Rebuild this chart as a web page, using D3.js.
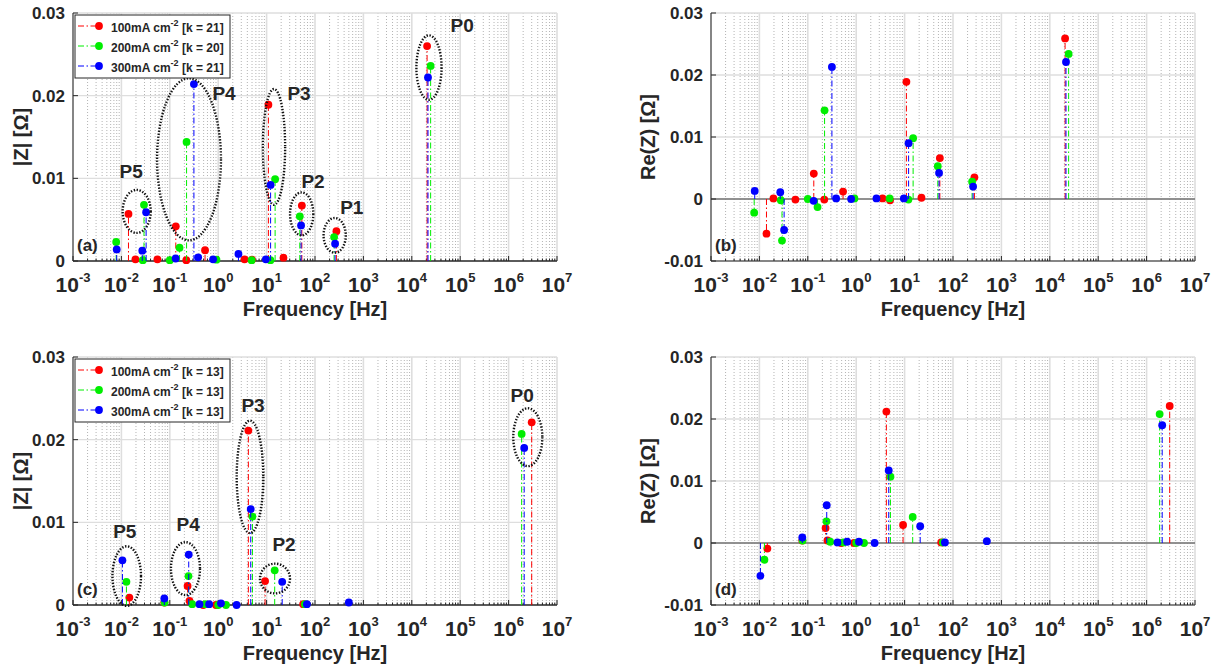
<!DOCTYPE html>
<html>
<head>
<meta charset="utf-8">
<script src="https://cdn.jsdelivr.net/npm/d3@7"></script>
<style>
  html, body { margin: 0; padding: 0; background: #ffffff; }
  svg { display: block; }
  text { font-family: "Liberation Sans", Arial, Helvetica, sans-serif; font-weight: bold; fill: #262626; }
</style>
</head>
<body>
<svg id="chart" width="1215" height="668"></svg>
<script>
// ---------------- DATA ----------------
const seriesNames = ["100mA cm", "200mA cm", "300mA cm"];
const seriesColors = ["#ff0000", "#00ee00", "#0000ff"];

// Row 1 (panels a, b)
const kRow1 = [21, 20, 21];
const f1Red   = [0.0140, 0.0195, 0.0555, 0.133, 0.219, 0.535, 3.5, 5.0, 10.9, 22.3, 53.5, 277, 20700];
const absZ1Red = [0.0057, 0.0002, 0.0002, 0.0042, 0.0001, 0.0013, 0.0002, 0.00015, 0.0189, 0.0004, 0.0067, 0.0036, 0.0260];
const reZ1Red  = [-0.0056, 0.0001, -0.0001, 0.0041, -0.0001, 0.0012, 0.0001, -0.0002, 0.0189, 0.0002, 0.0066, 0.0035, 0.0259];

const f1Green   = [0.0078, 0.0277, 0.0293, 0.100, 0.159, 0.222, 0.92, 4.9, 12.0, 15.0, 48.5, 248, 24500];
const absZ1Green = [0.0023, 0.0001, 0.0068, 0.0001, 0.0016, 0.0144, 0.00016, 0.0001, 0.0001, 0.0099, 0.0054, 0.0029, 0.0236];
const reZ1Green  = [-0.0022, -0.0002, -0.0067, 0.0000, -0.0013, 0.0143, 0.0001, 0.0001, -0.0001, 0.0098, 0.0053, 0.0028, 0.0234];

const f1Blue   = [0.0080, 0.0270, 0.0324, 0.132, 0.315, 0.385, 0.785, 2.62, 9.65, 12.1, 51.5, 260, 21600];
const absZ1Blue = [0.0014, 0.00125, 0.0059, 0.0003, 0.0214, 0.00045, 0.0002, 0.00085, 0.0002, 0.0092, 0.0043, 0.0021, 0.0222];
const reZ1Blue  = [0.0013, 0.0011, -0.0050, -0.0003, 0.0213, 0.0001, 0.0000, 0.0001, 0.0001, 0.0090, 0.0042, 0.0020, 0.0221];

// Row 2 (panels c, d)
const kRow2 = [13, 13, 13];
const f2Red   = [0.0146, 0.077, 0.233, 0.255, 0.49, 0.90, 4.2, 9.3, 57, 3.0e6];
const absZ2Red = [0.0009, 0.0003, 0.0023, 0.0005, 0.0000, 0.0000, 0.0211, 0.0029, 0.0001, 0.0221];
const reZ2Red  = [-0.0009, 0.0004, 0.0024, 0.0004, 0.0000, 0.0000, 0.0212, 0.0029, 0.0001, 0.0221];

const f2Green   = [0.0127, 0.078, 0.243, 0.29, 0.54, 1.0, 1.45, 5.1, 14.7, 62, 1.86e6];
const absZ2Green = [0.0028, 0.0003, 0.0035, 0.0001, 0.0001, 0.0000, 0.0000, 0.0107, 0.0042, 0.0001, 0.0207];
const reZ2Green  = [-0.0027, 0.0004, 0.0035, 0.0002, 0.0001, 0.0000, 0.0000, 0.0107, 0.0042, 0.0001, 0.0208];

const f2Blue   = [0.0105, 0.077, 0.246, 0.41, 0.65, 1.14, 2.4, 4.7, 21, 68, 500, 2.1e6];
const absZ2Blue = [0.0054, 0.0008, 0.0061, 0.0001, 0.0001, 0.0002, 0.0000, 0.0116, 0.0028, 0.0001, 0.0003, 0.0190];
const reZ2Blue  = [-0.0053, 0.0009, 0.0061, 0.0001, 0.0002, 0.0002, 0.0000, 0.0117, 0.0027, 0.0001, 0.0003, 0.0190];

// Axis ticks
const xTickExponents = [-3, -2, -1, 0, 1, 2, 3, 4, 5, 6, 7];
const yTicksAbs = [0, 0.01, 0.02, 0.03];
const yTickLabelsAbs = ["0", "0.01", "0.02", "0.03"];
const yTicksRe = [-0.01, 0, 0.01, 0.02, 0.03];
const yTickLabelsRe = ["-0.01", "0", "0.01", "0.02", "0.03"];

// Peak annotations: [label, centre log10(f), centre value, half-width (decades), half-height (value), label log10(f), label value]
const peaksA = [
  ["P5", -1.684, 0.0060, 0.29, 0.0026, -1.80, 0.0109],
  ["P4", -0.603, 0.0123, 0.66, 0.0098, 0.12, 0.0203],
  ["P3", 1.153, 0.0138, 0.23, 0.0070, 1.67, 0.0203],
  ["P2", 1.725, 0.0057, 0.24, 0.0026, 1.96, 0.0097],
  ["P1", 2.407, 0.0031, 0.23, 0.0021, 2.76, 0.0065],
  ["P0", 4.355, 0.0234, 0.26, 0.0039, 5.04, 0.0285]
];
const peaksC = [
  ["P5", -1.890, 0.0035, 0.295, 0.0036, -1.93, 0.0090],
  ["P4", -0.676, 0.0044, 0.30, 0.0032, -0.62, 0.0098],
  ["P3", 0.657, 0.0155, 0.275, 0.0068, 0.72, 0.0242],
  ["P2", 1.174, 0.0032, 0.31, 0.0018, 1.36, 0.0074],
  ["P0", 6.397, 0.0203, 0.30, 0.0035, 6.28, 0.0254]
];

// ---------------- DRAWING ----------------
const svg = d3.select("#chart");
const FONT = '"Liberation Sans", Arial, Helvetica, sans-serif';

function drawPanel(p) {
  const x = d3.scaleLog().domain([1e-3, 1e7]).range([p.x0, p.x1]);
  const y = d3.scaleLinear().domain(p.yDomain).range([p.y1, p.y0]);
  const g = svg.append("g");
  const pxPerDec = (p.x1 - p.x0) / 10;

  // minor x grid (dotted)
  const minor = [];
  for (let n = -3; n < 7; n++) for (let k = 2; k <= 9; k++) minor.push(k * Math.pow(10, n));
  g.selectAll(".mg").data(minor).enter().append("line")
    .attr("x1", d => x(d)).attr("x2", d => x(d))
    .attr("y1", p.y0).attr("y2", p.y1)
    .attr("stroke", "#b4b4b4").attr("stroke-width", 1).attr("stroke-dasharray", "1,2");
  // major x grid
  const major = xTickExponents.map(e => Math.pow(10, e));
  g.selectAll(".Mg").data(major).enter().append("line")
    .attr("x1", d => x(d)).attr("x2", d => x(d))
    .attr("y1", p.y0).attr("y2", p.y1)
    .attr("stroke", "#dedede").attr("stroke-width", 1.6);
  // y grid
  g.selectAll(".yg").data(p.yTicks).enter().append("line")
    .attr("x1", p.x0).attr("x2", p.x1)
    .attr("y1", d => y(d)).attr("y2", d => y(d))
    .attr("stroke", "#dedede").attr("stroke-width", 1.3);

  // baseline at 0 (stem baseline)
  g.append("line").attr("x1", p.x0).attr("x2", p.x1)
    .attr("y1", y(0)).attr("y2", y(0))
    .attr("stroke", "#3c3c3c").attr("stroke-width", 1);

  // axes
  g.append("line").attr("x1", p.x0).attr("x2", p.x1).attr("y1", p.y1).attr("y2", p.y1)
    .attr("stroke", "#262626").attr("stroke-width", 1);
  g.append("line").attr("x1", p.x0).attr("x2", p.x0).attr("y1", p.y0).attr("y2", p.y1)
    .attr("stroke", "#262626").attr("stroke-width", 1);
  // ticks (inward)
  g.selectAll(".mt").data(minor).enter().append("line")
    .attr("x1", d => x(d)).attr("x2", d => x(d))
    .attr("y1", p.y1).attr("y2", p.y1 - 2.5)
    .attr("stroke", "#262626").attr("stroke-width", 1);
  g.selectAll(".Mt").data(major).enter().append("line")
    .attr("x1", d => x(d)).attr("x2", d => x(d))
    .attr("y1", p.y1).attr("y2", p.y1 - 5)
    .attr("stroke", "#262626").attr("stroke-width", 1);
  g.selectAll(".yt").data(p.yTicks).enter().append("line")
    .attr("x1", p.x0).attr("x2", p.x0 + 5)
    .attr("y1", d => y(d)).attr("y2", d => y(d))
    .attr("stroke", "#262626").attr("stroke-width", 1);

  // x tick labels
  xTickExponents.forEach(e => {
    const t = g.append("text").attr("x", x(Math.pow(10, e))).attr("y", p.y1 + 31)
      .attr("text-anchor", "middle").attr("font-size", 21);
    t.append("tspan").text("10");
    t.append("tspan").attr("dy", -10).attr("font-size", 13).text(String(e));
  });
  // y tick labels
  p.yTicks.forEach((v, i) => {
    g.append("text").attr("x", p.x0 - 8).attr("y", y(v) + 6)
      .attr("text-anchor", "end").attr("font-size", 17).text(p.yTickLabels[i]);
  });

  // axis titles
  g.append("text").attr("x", (p.x0 + p.x1) / 2).attr("y", p.y1 + 55)
    .attr("text-anchor", "middle").attr("font-size", 20).text("Frequency [Hz]");
  g.append("text").attr("transform", `translate(${p.yLabelX},${(p.y0 + p.y1) / 2}) rotate(-90)`)
    .attr("text-anchor", "middle").attr("font-size", 20).text(p.yLabel);

  // stems per series
  p.series.forEach((s, si) => {
    const pts = s.f.map((f, i) => ({ f: f, v: s.v[i] }));
    const sg = g.append("g");
    sg.selectAll("line").data(pts).enter().append("line")
      .attr("x1", d => x(d.f)).attr("x2", d => x(d.f))
      .attr("y1", y(0)).attr("y2", d => y(d.v))
      .attr("stroke", seriesColors[si]).attr("stroke-width", 1)
      .attr("stroke-dasharray", "6,2.5,1.5,2.5");
    sg.selectAll("circle").data(pts).enter().append("circle")
      .attr("cx", d => x(d.f)).attr("cy", d => y(d.v)).attr("r", 3.9)
      .attr("fill", seriesColors[si]);
  });

  // peak ellipses + labels
  if (p.peaks) {
    p.peaks.forEach(pk => {
      const cx = x(Math.pow(10, pk[1]));
      const cy = y(pk[2]);
      g.append("ellipse").attr("cx", cx).attr("cy", cy)
        .attr("rx", pk[3] * pxPerDec).attr("ry", y(pk[2] - pk[4]) - cy)
        .attr("fill", "none").attr("stroke", "#111").attr("stroke-width", 2.4)
        .attr("stroke-dasharray", "1.4,1.6");
      g.append("text").attr("x", x(Math.pow(10, pk[5]))).attr("y", y(pk[6]) + 7)
        .attr("text-anchor", "middle").attr("font-size", 19).attr("fill", "#111").text(pk[0]);
    });
  }

  // panel letter
  g.append("text").attr("x", p.x0 + 4).attr("y", p.y1 - 10)
    .attr("font-size", 17).attr("fill", "#111").text(p.letter);

  // legend
  if (p.legendK) {
    const lx = p.x0 + 2, ly = p.y0 + 2, lw = 155, lh = 63;
    const lg = g.append("g");
    lg.append("rect").attr("x", lx).attr("y", ly).attr("width", lw).attr("height", lh)
      .attr("fill", "#fff").attr("stroke", "#262626").attr("stroke-width", 1);
    seriesNames.forEach((nm, i) => {
      const ry = ly + 11 + i * 20;
      lg.append("line").attr("x1", lx + 3).attr("x2", lx + 24).attr("y1", ry).attr("y2", ry)
        .attr("stroke", seriesColors[i]).attr("stroke-width", 1).attr("stroke-dasharray", "6,2.5,1.5,2.5");
      lg.append("circle").attr("cx", lx + 24).attr("cy", ry).attr("r", 3.9).attr("fill", seriesColors[i]);
      const t = lg.append("text").attr("x", lx + 36).attr("y", ry + 6).attr("font-size", 12).attr("fill", "#111");
      t.append("tspan").text(nm);
      t.append("tspan").attr("dy", -6).attr("font-size", 9).text("-2");
      t.append("tspan").attr("dy", 6).attr("font-size", 12).text(` [k = ${p.legendK[i]}]`);
    });
  }
}

drawPanel({
  x0: 73, x1: 557, y0: 13, y1: 261, yDomain: [0, 0.03],
  yTicks: yTicksAbs, yTickLabels: yTickLabelsAbs, yLabel: "|Z| [Ω]", yLabelX: 28,
  letter: "(a)", legendK: kRow1, peaks: peaksA,
  series: [{ f: f1Red, v: absZ1Red }, { f: f1Green, v: absZ1Green }, { f: f1Blue, v: absZ1Blue }]
});
drawPanel({
  x0: 711, x1: 1195, y0: 13, y1: 261, yDomain: [-0.01, 0.03],
  yTicks: yTicksRe, yTickLabels: yTickLabelsRe, yLabel: "Re(Z) [Ω]", yLabelX: 655,
  letter: "(b)",
  series: [{ f: f1Red, v: reZ1Red }, { f: f1Green, v: reZ1Green }, { f: f1Blue, v: reZ1Blue }]
});
drawPanel({
  x0: 73, x1: 557, y0: 357, y1: 605, yDomain: [0, 0.03],
  yTicks: yTicksAbs, yTickLabels: yTickLabelsAbs, yLabel: "|Z| [Ω]", yLabelX: 28,
  letter: "(c)", legendK: kRow2, peaks: peaksC,
  series: [{ f: f2Red, v: absZ2Red }, { f: f2Green, v: absZ2Green }, { f: f2Blue, v: absZ2Blue }]
});
drawPanel({
  x0: 711, x1: 1195, y0: 357, y1: 605, yDomain: [-0.01, 0.03],
  yTicks: yTicksRe, yTickLabels: yTickLabelsRe, yLabel: "Re(Z) [Ω]", yLabelX: 655,
  letter: "(d)",
  series: [{ f: f2Red, v: reZ2Red }, { f: f2Green, v: reZ2Green }, { f: f2Blue, v: reZ2Blue }]
});
</script>
</body>
</html>
